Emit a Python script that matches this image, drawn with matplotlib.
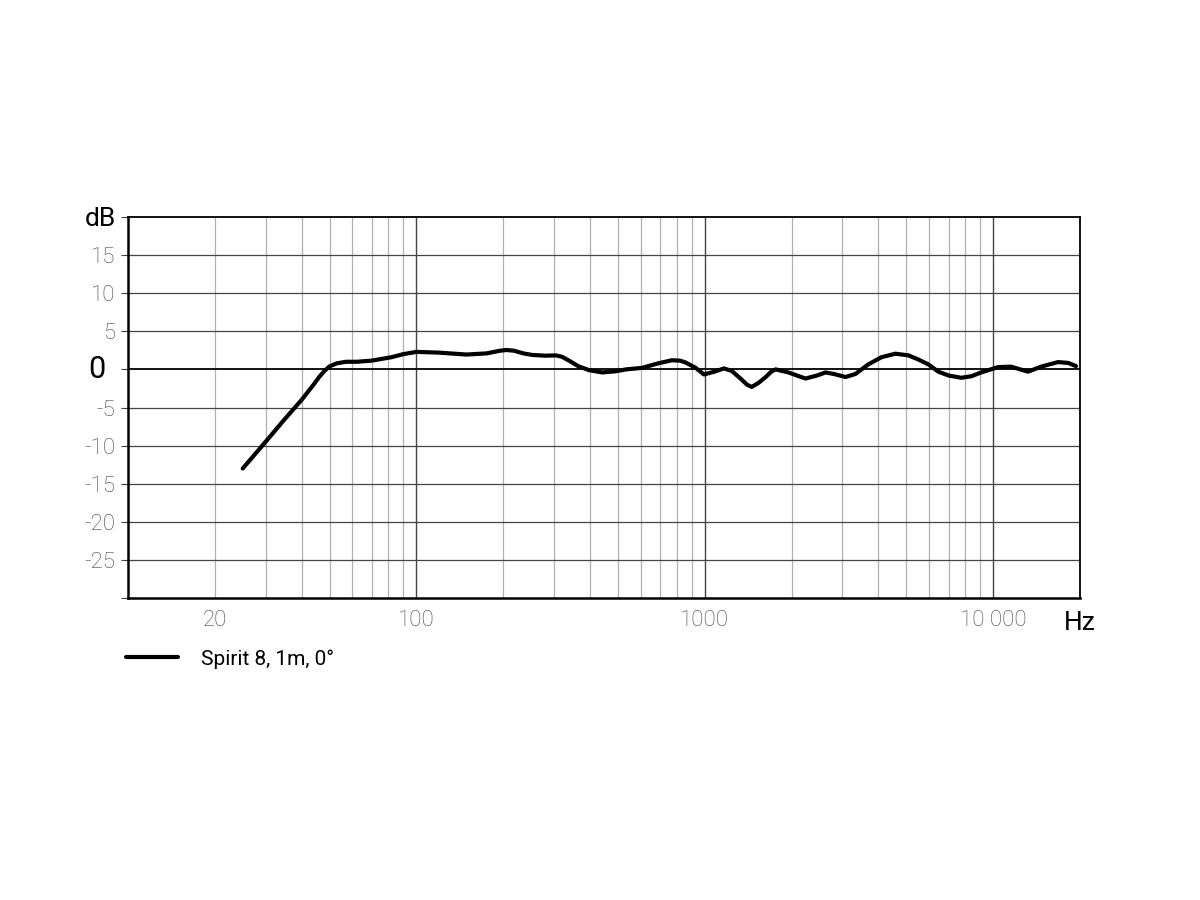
import matplotlib
matplotlib.use('Agg')
import matplotlib.pyplot as plt
from matplotlib.ticker import FixedLocator

plt.rcParams['font.family'] = ['Roboto', 'DejaVu Sans']
plt.rcParams['font.weight'] = 'light'

# частотная характеристика
freq = [25, 30, 35, 40, 44, 46, 48, 50, 53, 57, 62, 70, 82, 90, 100, 120, 149,
        175, 195, 205, 218, 235, 252, 280, 305, 320, 340, 365, 397, 441, 490,
        533, 606, 690, 769, 820, 859, 930, 993, 1080, 1165, 1240, 1330, 1400,
        1455, 1538, 1626, 1700, 1760, 1950, 2234, 2450, 2622, 2800, 3077, 3329,
        3690, 4100, 4578, 5085, 5500, 5960, 6454, 7000, 7749, 8400, 9080,
        10400, 11530, 13200, 14660, 16780, 18200, 19370]
level = [-13.0, -9.5, -6.5, -4.0, -2.0, -1.0, -0.2, 0.4, 0.8, 1.0, 1.0, 1.15,
         1.6, 2.0, 2.3, 2.2, 1.95, 2.1, 2.45, 2.55, 2.45, 2.1, 1.9, 1.8, 1.84,
         1.65, 1.1, 0.4, -0.1, -0.4, -0.25, 0.0, 0.2, 0.8, 1.2, 1.15, 0.9, 0.2,
         -0.66, -0.3, 0.13, -0.2, -1.2, -2.0, -2.3, -1.75, -1.0, -0.3, 0.0, -0.4,
         -1.2, -0.8, -0.4, -0.6, -1.0, -0.6, 0.66, 1.6, 2.06, 1.84, 1.3, 0.66,
         -0.3, -0.8, -1.1, -0.9, -0.4, 0.3, 0.36, -0.3, 0.36, 0.96, 0.85, 0.43]

y_ticks = [20, 15, 10, 5, 0, -5, -10, -15, -20, -25, -30]
y_labels = ['dB', '15', '10', '5', '', '-5', '-10', '-15', '-20', '-25', '']
x_ticks = [20, 100, 1000, 10000]
x_labels = ['20', '100', '1000', '10 000']

fig = plt.figure(figsize=(12, 9), dpi=100)
ax = fig.add_axes([128 / 1200, 1 - 598 / 900, 952 / 1200, 381 / 900])

ax.set_xscale('log')
ax.set_xlim(10, 20000)
ax.set_ylim(-30, 20)

# сетка: второстепенные линии
minor = [m * 10 ** d for d in range(1, 5) for m in range(2, 10) if m * 10 ** d < 20000]
for f in minor:
    ax.axvline(f, color='#b0b0b0', lw=0.9, zorder=1)
for f in [100, 1000, 10000]:
    ax.axvline(f, color='#444444', lw=1.0, zorder=1)
for v in range(-25, 20, 5):
    ax.axhline(v, color='#444444' if v else 'black', lw=0.9 if v else 1.3, zorder=1)

ax.plot(freq, level, color='black', lw=3, solid_capstyle='round',
        solid_joinstyle='round', label='Spirit 8, 1m, 0°', zorder=3)

ax.yaxis.set_major_locator(FixedLocator(y_ticks))
ax.set_yticklabels(y_labels)
ax.xaxis.set_major_locator(FixedLocator(x_ticks))
ax.xaxis.set_minor_locator(FixedLocator([]))
ax.set_xticklabels(x_labels)
ax.tick_params(axis='y', length=5, width=0.8, color='#444444', labelsize=16,
               labelcolor='#444444', pad=4)
ax.tick_params(axis='x', length=0, labelsize=16, labelcolor='#444444', pad=9)
for lab in ax.get_yticklabels():
    if lab.get_text() == 'dB':
        lab.set_fontsize(19)
        lab.set_fontweight('normal')
        lab.set_color('black')

# ноль крупнее и чуть левее остальных подписей
ax.text(-0.024, 0, '0', transform=ax.get_yaxis_transform(), fontsize=22,
        fontweight='normal', ha='right', va='center', color='black')

for s in ['left', 'bottom']:
    ax.spines[s].set_linewidth(1.8)
for s in ['top', 'right']:
    ax.spines[s].set_linewidth(1.3)

fig.text(1064 / 1200, 1 - 623 / 900, 'Hz', fontsize=19, fontweight='normal',
         va='center', ha='left')

leg = fig.legend(loc='center left', bbox_to_anchor=(126 / 1200, 1 - 659 / 900),
                 frameon=False, fontsize=15, handlelength=2.5, handletextpad=1.1,
                 borderpad=0, borderaxespad=0)
for t in leg.get_texts():
    t.set_fontweight('normal')

plt.savefig('out.png')
